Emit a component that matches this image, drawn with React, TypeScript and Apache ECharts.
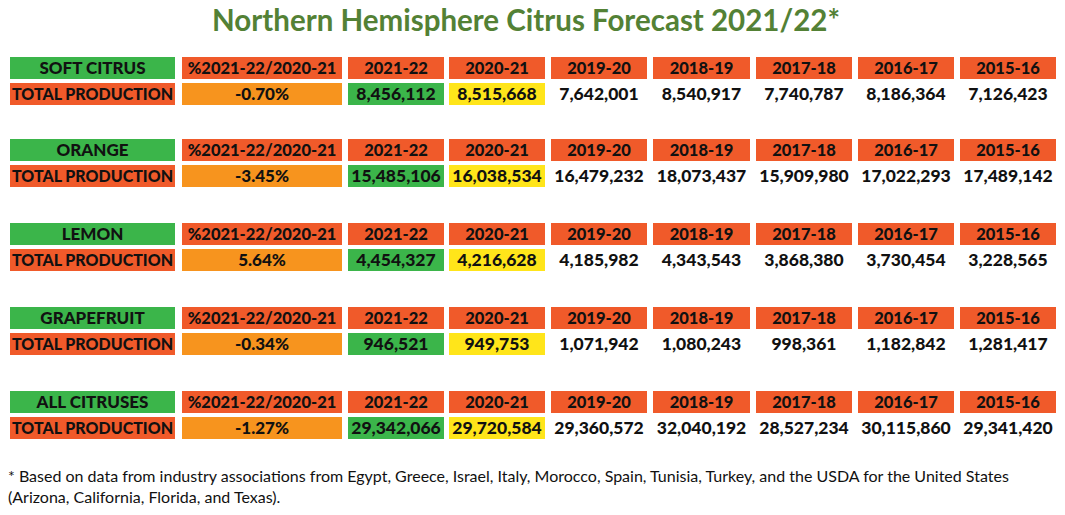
import React, { useEffect, useRef } from "react";
import * as echarts from "echarts";

const TITLE = "Northern Hemisphere Citrus Forecast 2021/22*";
const fruits = ["SOFT CITRUS", "ORANGE", "LEMON", "GRAPEFRUIT", "ALL CITRUSES"];
const rowLabel = "TOTAL PRODUCTION";
const changeHeader = "%2021-22/2020-21";
const seasons = ["2021-22", "2020-21", "2019-20", "2018-19", "2017-18", "2016-17", "2015-16"];
const changes = ["-0.70%", "-3.45%", "5.64%", "-0.34%", "-1.27%"];
const softCitrus = [8456112, 8515668, 7642001, 8540917, 7740787, 8186364, 7126423];
const orange = [15485106, 16038534, 16479232, 18073437, 15909980, 17022293, 17489142];
const lemon = [4454327, 4216628, 4185982, 4343543, 3868380, 3730454, 3228565];
const grapefruit = [946521, 949753, 1071942, 1080243, 998361, 1182842, 1281417];
const allCitruses = [29342066, 29720584, 29360572, 32040192, 28527234, 30115860, 29341420];
const production = [softCitrus, orange, lemon, grapefruit, allCitruses];
const FOOTNOTE_1 =
  "* Based on data from industry associations from Egypt, Greece, Israel, Italy, Morocco, Spain, Tunisia, Turkey, and the USDA for the United States";
const FOOTNOTE_2 = "(Arizona, California, Florida, and Texas).";

// layout
const colX = [10, 182, 348, 449, 551, 653, 756, 858, 960];
const colW = [165, 160, 96, 96, 96, 97, 96, 96, 96];
const groupTop = [57, 139, 223, 307, 391];
const CELL_H = 22;
const ROW_GAP = 26;

const GREEN = "#3BB54A";
const RED = "#F05A2A";
const ORANGE = "#F7941E";
const YELLOW = "#FFE51A";
const FONT = "Lato, 'Open Sans', sans-serif";

const fmt = (n: number) => n.toLocaleString("en-US");

type Cell = { g: number; r: number; c: number; text: string; fill: string | null; size: number };

function buildCells(): Cell[] {
  const cells: Cell[] = [];
  fruits.forEach((f, g) => {
    cells.push({ g, r: 0, c: 0, text: f, fill: GREEN, size: 17 });
    cells.push({ g, r: 0, c: 1, text: changeHeader, fill: RED, size: 16.5 });
    seasons.forEach((s, i) => cells.push({ g, r: 0, c: 2 + i, text: s, fill: RED, size: 16.5 }));
    cells.push({ g, r: 1, c: 0, text: rowLabel, fill: RED, size: 16 });
    cells.push({ g, r: 1, c: 1, text: changes[g], fill: ORANGE, size: 17 });
    production[g].forEach((v, i) =>
      cells.push({
        g,
        r: 1,
        c: 2 + i,
        text: fmt(v),
        fill: i === 0 ? GREEN : i === 1 ? YELLOW : null,
        size: 17.5,
      })
    );
  });
  return cells;
}

export default function App() {
  const ref = useRef<HTMLDivElement>(null);
  useEffect(() => {
    if (!ref.current) return;
    const chart = echarts.init(ref.current, null, { renderer: "svg" });
    const cells = buildCells();
    chart.setOption({
      animation: false,
      backgroundColor: "#ffffff",
      title: {
        text: TITLE,
        left: 521,
        top: -1,
        textAlign: "center",
        textStyle: { fontFamily: FONT, fontSize: 29.5, fontWeight: "bold", color: "#538135" },
      },
      graphic: [
        {
          type: "text",
          left: 8,
          top: 465,
          style: {
            text: FOOTNOTE_1 + "\n" + FOOTNOTE_2,
            font: `16px ${FONT}`,
            lineHeight: 21,
            fill: "#111",
          },
        },
      ],
      series: [
        {
          type: "custom",
          coordinateSystem: "none",
          data: cells.map((c) => [c.g, c.r, c.c]),
          renderItem: (params: any, api: any) => {
            const cell = cells[params.dataIndex];
            const x = colX[cell.c];
            const w = colW[cell.c];
            const y = groupTop[cell.g] + cell.r * ROW_GAP;
            const children: any[] = [];
            if (cell.fill) {
              children.push({
                type: "rect",
                shape: { x, y, width: w, height: CELL_H },
                style: { fill: cell.fill },
              });
            }
            children.push({
              type: "text",
              style: {
                text: cell.text,
                x: x + w / 2,
                y: y + CELL_H / 2 - 0.5,
                align: "center",
                verticalAlign: "middle",
                font: `900 ${cell.size}px ${FONT}`,
                fill: "#111",
              },
            });
            return { type: "group", children };
          },
        },
      ],
    });
    return () => chart.dispose();
  }, []);
  return (
    <div
      ref={ref}
      style={{ position: "fixed", left: 0, top: 0, width: 1065, height: 515 }}
    />
  );
}
